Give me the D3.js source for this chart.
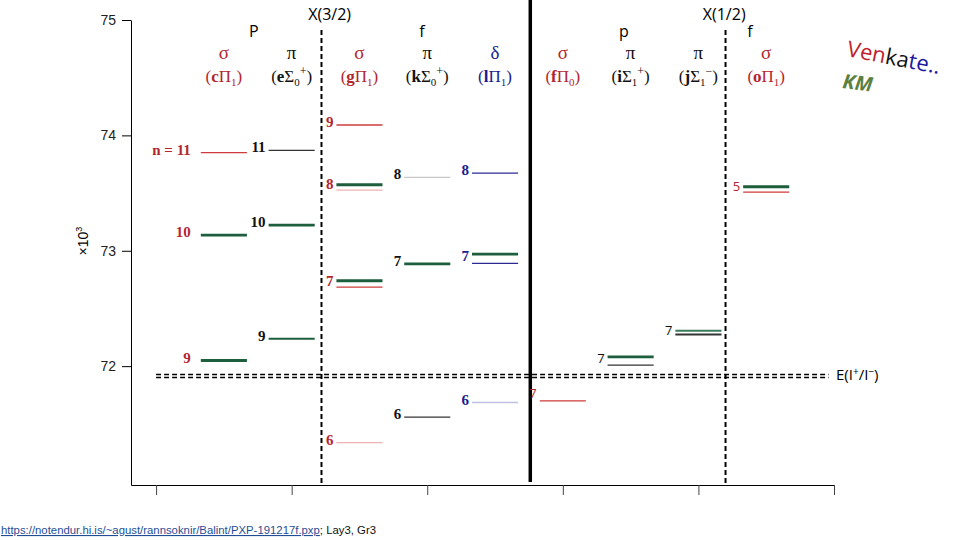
<!DOCTYPE html>
<html>
<head>
<meta charset="utf-8">
<script src="https://d3js.org/d3.v7.min.js"></script>
<style>
  body { margin: 0; background: #fff; }
  svg { display: block; }
</style>
</head>
<body>
<svg id="chart" width="960" height="540"></svg>
<script>
// State columns, left to right
const stateLetters = ["c", "e", "g", "k", "l", "f", "i", "j", "o"];
const stateSymbols = ["Π", "Σ", "Π", "Σ", "Π", "Π", "Σ", "Σ", "Π"];
const stateOmega   = ["1", "0", "1", "0", "1", "0", "1", "1", "1"];
const stateSign    = ["", "+", "", "+", "", "", "+", "−", ""];
const orbitals     = ["σ", "π", "σ", "π", "δ", "σ", "π", "π", "σ"];
const columnX      = [0.5, 1, 1.5, 2, 2.5, 3, 3.5, 4, 4.5];

// KM levels: [column, n, energy (x10^3 cm-1)]
const kmLevels = [
    [0, 10, 73.136], [0, 9, 72.049],
    [1, 10, 73.223], [1, 9, 72.237],
    [2, 8, 73.572], [2, 7, 72.740],
    [3, 7, 72.887],
    [4, 7, 72.971],
    [6, 7, 72.081],
    [7, 7, 72.306],
    [8, 5, 73.555]
];

// Venkataraman levels: [column, n, energy, tentative]
const venkLevels = [
    [0, 11, 73.850, false],
    [1, 11, 73.870, false],
    [2, 9, 74.090, false], [2, 8, 73.526, true], [2, 7, 72.685, false], [2, 6, 71.338, true],
    [3, 8, 73.636, true], [3, 6, 71.558, false],
    [4, 8, 73.673, false], [4, 7, 72.890, false], [4, 6, 71.685, true],
    [5, 7, 71.699, false],
    [6, 7, 72.009, false],
    [7, 7, 72.275, false],
    [8, 5, 73.509, false]
];

const ionLimits = [71.928, 71.902];   // E(I+/I-)
const yTicks = [72, 73, 74, 75];
const xTicks = [0, 1, 2, 3, 4, 5];
const dividers = [1.22, 4.20];         // X(3/2) and X(1/2) limits
const middleBar = 2.76;

const svg = d3.select("#chart");

const x = d3.scaleLinear().domain([-0.185, 5]).range([131, 834]);
const y = d3.scaleLinear().domain([70.97, 75]).range([485, 20]);
const halfW = 0.17;

const labelColor = { "σ": "#b3262e", "π": "#111", "δ": "#1c1c8f" };
const lineColor = { "σ": "#cf3b3b", "π": "#333", "δ": "#2a2a92" };
const faintColor = { "σ": "#f0b2b2", "π": "#c6c6c6", "δ": "#bfc0e2" };
const kmColor = "#1d5e3c";

// Axes
const yAxis = d3.axisLeft(y).tickValues(yTicks).tickSize(9).tickSizeOuter(0)
    .tickPadding(6).tickFormat(d3.format("d"));
const gy = svg.append("g").attr("transform", "translate(131,0)").call(yAxis);
gy.selectAll("text").attr("font-family", "Liberation Sans, Arial, sans-serif")
    .attr("font-size", 14).attr("fill", "#222");

const xAxis = d3.axisBottom(x).tickValues(xTicks).tickSize(10).tickSizeOuter(0).tickFormat("");
const gx = svg.append("g").attr("transform", "translate(0,485)").call(xAxis);
gx.selectAll(".tick line").attr("stroke", "#444");

svg.append("text")
    .attr("transform", "translate(88,241) rotate(-90)")
    .attr("text-anchor", "middle")
    .attr("font-family", "Liberation Sans, Arial, sans-serif")
    .attr("font-size", 14)
    .text("×10")
    .append("tspan").attr("dy", -6).attr("font-size", 9).text("3");

// Vertical separators
svg.append("line")
    .attr("x1", x(middleBar)).attr("x2", x(middleBar))
    .attr("y1", 0).attr("y2", 482)
    .attr("stroke", "#000").attr("stroke-width", 3.5);

svg.selectAll(".divider")
    .data(dividers)
    .enter()
    .append("line")
    .attr("class", "divider")
    .attr("x1", d => x(d)).attr("x2", d => x(d))
    .attr("y1", 30).attr("y2", 485)
    .attr("stroke", "#000").attr("stroke-width", 2)
    .attr("stroke-dasharray", "5,3");

// Ionization limits
svg.selectAll(".ion")
    .data(ionLimits)
    .enter()
    .append("line")
    .attr("class", "ion")
    .attr("x1", x(0)).attr("x2", x(4.96))
    .attr("y1", d => y(d)).attr("y2", d => y(d))
    .attr("stroke", "#000").attr("stroke-width", 1.5)
    .attr("stroke-dasharray", "5,3");

const ionText = svg.append("text")
    .attr("x", 836).attr("y", y(ionLimits[0]) + 6)
    .attr("font-family", "Open Sans, Liberation Sans, sans-serif")
    .attr("font-size", 15)
    .text("E(I");
ionText.append("tspan").attr("dy", -5).attr("font-size", 10).text("+");
ionText.append("tspan").attr("dy", 5).text("/I");
ionText.append("tspan").attr("dy", -5).attr("font-size", 10).text("−");
ionText.append("tspan").attr("dy", 5).text(")");

// Level lines
svg.selectAll(".venk")
    .data(venkLevels)
    .enter()
    .append("line")
    .attr("class", "venk")
    .attr("x1", d => x(columnX[d[0]] - halfW)).attr("x2", d => x(columnX[d[0]] + halfW))
    .attr("y1", d => y(d[2])).attr("y2", d => y(d[2]))
    .attr("stroke", d => d[3] ? faintColor[orbitals[d[0]]] : lineColor[orbitals[d[0]]])
    .attr("stroke-width", d => d[0] === 7 ? 2 : 1.3);

svg.selectAll(".km")
    .data(kmLevels)
    .enter()
    .append("line")
    .attr("class", "km")
    .attr("x1", d => x(columnX[d[0]] - halfW)).attr("x2", d => x(columnX[d[0]] + halfW))
    .attr("y1", d => y(d[2])).attr("y2", d => y(d[2]))
    .attr("stroke", d => d[0] === 7 ? "#3a7a5a" : kmColor)
    .attr("stroke-width", d => (d[0] === 1 && d[1] === 9) || d[0] === 7 ? 2 : 2.8);

// n labels, one per (column, n)
const groups = d3.groups(kmLevels.concat(venkLevels), d => d[0] + "_" + d[1])
    .map(([key, rows]) => ({
        col: rows[0][0],
        n: rows[0][1],
        e: d3.mean(rows, r => r[2])
    }));

svg.selectAll(".nlabel")
    .data(groups)
    .enter()
    .append("text")
    .attr("class", "nlabel")
    .attr("x", d => x(columnX[d.col] - halfW) - (d.col === 0 ? 10 : 3))
    .attr("y", d => y(d.e) - (d.col === 5 ? 8 : 3))
    .attr("dominant-baseline", "central")
    .attr("text-anchor", "end")
    .attr("font-family", d => d.col < 5 ? "Liberation Serif, Times New Roman, serif" : "Open Sans, Liberation Sans, sans-serif")
    .attr("font-weight", d => d.col < 5 ? "bold" : "normal")
    .attr("font-size", d => d.col < 5 ? 15 : 13)
    .attr("fill", d => labelColor[orbitals[d.col]])
    .text(d => d.col === 0 && d.n === 11 ? "n = 11" : d.n);

// Headers
const headFont = "Open Sans, Liberation Sans, sans-serif";
[["X(3/2)", 1.28, 20], ["X(1/2)", 4.19, 20], ["P", 0.72, 37], ["f", 1.96, 37], ["p", 3.45, 37], ["f", 4.38, 37]]
    .forEach(([t, px, py]) => {
        svg.append("text")
            .attr("x", x(px)).attr("y", py)
            .attr("text-anchor", "middle")
            .attr("font-family", headFont)
            .attr("font-size", 16)
            .text(t);
    });

svg.selectAll(".orb")
    .data(orbitals)
    .enter()
    .append("text")
    .attr("class", "orb")
    .attr("x", (d, i) => x(columnX[i]))
    .attr("y", 59)
    .attr("text-anchor", "middle")
    .attr("font-family", "Liberation Serif, Times New Roman, serif")
    .attr("font-size", 19)
    .attr("fill", d => labelColor[d])
    .text(d => d);

stateLetters.forEach((letter, i) => {
    const t = svg.append("text")
        .attr("x", x(columnX[i]))
        .attr("y", 82)
        .attr("text-anchor", "middle")
        .attr("font-family", "Liberation Serif, Times New Roman, serif")
        .attr("font-size", 17)
        .attr("fill", labelColor[orbitals[i]]);
    t.append("tspan").text("(");
    t.append("tspan").attr("font-weight", "bold").text(letter);
    t.append("tspan").text(stateSymbols[i]);
    t.append("tspan").attr("dy", 4).attr("font-size", 11).text(stateOmega[i]);
    if (stateSign[i]) {
        t.append("tspan").attr("dy", -11).attr("font-size", 12).text(stateSign[i]);
        t.append("tspan").attr("dy", 7).text(")");
    } else {
        t.append("tspan").attr("dy", -4).text(")");
    }
});

// Legend
const venk = svg.append("text")
    .attr("transform", "translate(846,56) rotate(11)")
    .attr("font-family", "Open Sans, Liberation Sans, sans-serif")
    .attr("font-size", 22);
venk.append("tspan").attr("fill", "#c0222c").text("Ven");
venk.append("tspan").attr("fill", "#111").text("ka");
venk.append("tspan").attr("fill", "#1a1aa0").text("te..");

svg.append("text")
    .attr("transform", "translate(842,88) rotate(7)")
    .attr("font-family", "Open Sans, Liberation Sans, sans-serif")
    .attr("font-size", 20)
    .attr("font-weight", "bold")
    .attr("font-style", "italic")
    .attr("fill", "#5b8040")
    .text("KM");

// Source footnote
const foot = svg.append("text")
    .attr("x", 1).attr("y", 534)
    .attr("font-family", "Liberation Sans, Arial, sans-serif")
    .attr("font-size", 11)
    .attr("textLength", 375)
    .attr("lengthAdjust", "spacingAndGlyphs");
foot.append("tspan").attr("fill", "#1f4e96").attr("text-decoration", "underline")
    .text("https://notendur.hi.is/~agust/rannsoknir/Balint/PXP-191217f.pxp");
foot.append("tspan").attr("fill", "#111").text("; Lay3, Gr3");
</script>
</body>
</html>
